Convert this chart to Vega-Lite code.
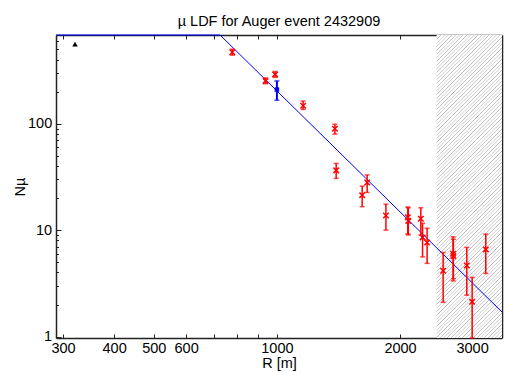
{
  "$schema": "https://vega.github.io/schema/vega-lite/v6.json",
  "width": 446,
  "height": 303,
  "autosize": {"type": "none"},
  "padding": {"left": 56, "top": 35, "right": 3, "bottom": 34},
  "title": {"text": "µ LDF for Auger event 2432909", "font": "Liberation Sans", "fontSize": 14.5, "fontWeight": "normal", "color": "#000", "offset": 4},
  "config": {
    "view": {"stroke": null},
    "axis": {"labelFont": "Liberation Sans", "titleFont": "Liberation Sans", "labelFontSize": 14.5, "titleFontSize": 14.5, "titleFontWeight": "normal", "labelColor": "#000", "titleColor": "#000", "domainColor": "#222", "tickColor": "#222", "domainWidth": 1.5, "tickWidth": 1, "grid": false, "labelFlush": false, "labelOverlap": false, "labelBound": false}
  },
  "datasets": {
    "red": [
      {"R": 778, "N": 469, "lo": 440, "hi": 500},
      {"R": 938, "N": 252, "lo": 237, "hi": 269},
      {"R": 990, "N": 290, "lo": 272, "hi": 309},
      {"R": 1159, "N": 147, "lo": 136, "hi": 163},
      {"R": 1386, "N": 89.4, "lo": 79.7, "hi": 98.9},
      {"R": 1396, "N": 36.4, "lo": 30.6, "hi": 42.3},
      {"R": 1616, "N": 21.3, "lo": 16.6, "hi": 25.9},
      {"R": 1662, "N": 28.0, "lo": 22.6, "hi": 33.0},
      {"R": 1847, "N": 13.7, "lo": 10.0, "hi": 17.5},
      {"R": 2089, "N": 13.2, "lo": 9.2, "hi": 16.5},
      {"R": 2095, "N": 12.2, "lo": 9.0, "hi": 16.2},
      {"R": 2248, "N": 12.8, "lo": 9.0, "hi": 16.2},
      {"R": 2270, "N": 8.54, "lo": 5.6, "hi": 11.6},
      {"R": 2329, "N": 7.66, "lo": 4.87, "hi": 10.4},
      {"R": 2549, "N": 4.15, "lo": 2.1, "hi": 6.17},
      {"R": 2696, "N": 6.0, "lo": 3.34, "hi": 8.65},
      {"R": 2700, "N": 5.7, "lo": 3.5, "hi": 8.2},
      {"R": 2912, "N": 4.66, "lo": 2.45, "hi": 6.88},
      {"R": 3001, "N": 2.12, "lo": 0.5, "hi": 3.6},
      {"R": 3240, "N": 6.59, "lo": 3.92, "hi": 9.17}
    ],
    "blue": [{"R": 1000, "N": 209, "lo": 166, "hi": 252}],
    "sat": [{"R": 321, "N": 558}],
    "fit": [{"R": 288.4, "N": 680}, {"R": 726, "N": 680}, {"R": 3550, "N": 1.7}],
    "cut": [{"R0": 2456, "R1": 3550}]
  },
  "resolve": {"axis": {"x": "independent", "y": "independent"}},
  "layer": [
    {
      "data": {"name": "cut"},
      "mark": {"type": "rect", "stroke": null, "fill": {"gradient": "linear", "x1": 0, "y1": 0, "x2": 0.249, "y2": 1.161, "stops": [
{"offset":0,"color":"#fff"},{"offset":0.002,"color":"#b4b4b4"},{"offset":0.004,"color":"#fff"},
{"offset":0.01,"color":"#fff"},{"offset":0.012,"color":"#b4b4b4"},{"offset":0.014,"color":"#fff"},
{"offset":0.02,"color":"#fff"},{"offset":0.022,"color":"#b4b4b4"},{"offset":0.024,"color":"#fff"},
{"offset":0.03,"color":"#fff"},{"offset":0.032,"color":"#b4b4b4"},{"offset":0.034,"color":"#fff"},
{"offset":0.04,"color":"#fff"},{"offset":0.042,"color":"#b4b4b4"},{"offset":0.044,"color":"#fff"},
{"offset":0.05,"color":"#fff"},{"offset":0.052,"color":"#b4b4b4"},{"offset":0.054,"color":"#fff"},
{"offset":0.06,"color":"#fff"},{"offset":0.062,"color":"#b4b4b4"},{"offset":0.064,"color":"#fff"},
{"offset":0.07,"color":"#fff"},{"offset":0.072,"color":"#b4b4b4"},{"offset":0.074,"color":"#fff"},
{"offset":0.08,"color":"#fff"},{"offset":0.082,"color":"#b4b4b4"},{"offset":0.084,"color":"#fff"},
{"offset":0.09,"color":"#fff"},{"offset":0.092,"color":"#b4b4b4"},{"offset":0.094,"color":"#fff"},
{"offset":0.10,"color":"#fff"},{"offset":0.102,"color":"#b4b4b4"},{"offset":0.104,"color":"#fff"},
{"offset":0.11,"color":"#fff"},{"offset":0.112,"color":"#b4b4b4"},{"offset":0.114,"color":"#fff"},
{"offset":0.12,"color":"#fff"},{"offset":0.122,"color":"#b4b4b4"},{"offset":0.124,"color":"#fff"},
{"offset":0.13,"color":"#fff"},{"offset":0.132,"color":"#b4b4b4"},{"offset":0.134,"color":"#fff"},
{"offset":0.14,"color":"#fff"},{"offset":0.142,"color":"#b4b4b4"},{"offset":0.144,"color":"#fff"},
{"offset":0.15,"color":"#fff"},{"offset":0.152,"color":"#b4b4b4"},{"offset":0.154,"color":"#fff"},
{"offset":0.16,"color":"#fff"},{"offset":0.162,"color":"#b4b4b4"},{"offset":0.164,"color":"#fff"},
{"offset":0.17,"color":"#fff"},{"offset":0.172,"color":"#b4b4b4"},{"offset":0.174,"color":"#fff"},
{"offset":0.18,"color":"#fff"},{"offset":0.182,"color":"#b4b4b4"},{"offset":0.184,"color":"#fff"},
{"offset":0.19,"color":"#fff"},{"offset":0.192,"color":"#b4b4b4"},{"offset":0.194,"color":"#fff"},
{"offset":0.20,"color":"#fff"},{"offset":0.202,"color":"#b4b4b4"},{"offset":0.204,"color":"#fff"},
{"offset":0.21,"color":"#fff"},{"offset":0.212,"color":"#b4b4b4"},{"offset":0.214,"color":"#fff"},
{"offset":0.22,"color":"#fff"},{"offset":0.222,"color":"#b4b4b4"},{"offset":0.224,"color":"#fff"},
{"offset":0.23,"color":"#fff"},{"offset":0.232,"color":"#b4b4b4"},{"offset":0.234,"color":"#fff"},
{"offset":0.24,"color":"#fff"},{"offset":0.242,"color":"#b4b4b4"},{"offset":0.244,"color":"#fff"},
{"offset":0.25,"color":"#fff"},{"offset":0.252,"color":"#b4b4b4"},{"offset":0.254,"color":"#fff"},
{"offset":0.26,"color":"#fff"},{"offset":0.262,"color":"#b4b4b4"},{"offset":0.264,"color":"#fff"},
{"offset":0.27,"color":"#fff"},{"offset":0.272,"color":"#b4b4b4"},{"offset":0.274,"color":"#fff"},
{"offset":0.28,"color":"#fff"},{"offset":0.282,"color":"#b4b4b4"},{"offset":0.284,"color":"#fff"},
{"offset":0.29,"color":"#fff"},{"offset":0.292,"color":"#b4b4b4"},{"offset":0.294,"color":"#fff"},
{"offset":0.30,"color":"#fff"},{"offset":0.302,"color":"#b4b4b4"},{"offset":0.304,"color":"#fff"},
{"offset":0.31,"color":"#fff"},{"offset":0.312,"color":"#b4b4b4"},{"offset":0.314,"color":"#fff"},
{"offset":0.32,"color":"#fff"},{"offset":0.322,"color":"#b4b4b4"},{"offset":0.324,"color":"#fff"},
{"offset":0.33,"color":"#fff"},{"offset":0.332,"color":"#b4b4b4"},{"offset":0.334,"color":"#fff"},
{"offset":0.34,"color":"#fff"},{"offset":0.342,"color":"#b4b4b4"},{"offset":0.344,"color":"#fff"},
{"offset":0.35,"color":"#fff"},{"offset":0.352,"color":"#b4b4b4"},{"offset":0.354,"color":"#fff"},
{"offset":0.36,"color":"#fff"},{"offset":0.362,"color":"#b4b4b4"},{"offset":0.364,"color":"#fff"},
{"offset":0.37,"color":"#fff"},{"offset":0.372,"color":"#b4b4b4"},{"offset":0.374,"color":"#fff"},
{"offset":0.38,"color":"#fff"},{"offset":0.382,"color":"#b4b4b4"},{"offset":0.384,"color":"#fff"},
{"offset":0.39,"color":"#fff"},{"offset":0.392,"color":"#b4b4b4"},{"offset":0.394,"color":"#fff"},
{"offset":0.40,"color":"#fff"},{"offset":0.402,"color":"#b4b4b4"},{"offset":0.404,"color":"#fff"},
{"offset":0.41,"color":"#fff"},{"offset":0.412,"color":"#b4b4b4"},{"offset":0.414,"color":"#fff"},
{"offset":0.42,"color":"#fff"},{"offset":0.422,"color":"#b4b4b4"},{"offset":0.424,"color":"#fff"},
{"offset":0.43,"color":"#fff"},{"offset":0.432,"color":"#b4b4b4"},{"offset":0.434,"color":"#fff"},
{"offset":0.44,"color":"#fff"},{"offset":0.442,"color":"#b4b4b4"},{"offset":0.444,"color":"#fff"},
{"offset":0.45,"color":"#fff"},{"offset":0.452,"color":"#b4b4b4"},{"offset":0.454,"color":"#fff"},
{"offset":0.46,"color":"#fff"},{"offset":0.462,"color":"#b4b4b4"},{"offset":0.464,"color":"#fff"},
{"offset":0.47,"color":"#fff"},{"offset":0.472,"color":"#b4b4b4"},{"offset":0.474,"color":"#fff"},
{"offset":0.48,"color":"#fff"},{"offset":0.482,"color":"#b4b4b4"},{"offset":0.484,"color":"#fff"},
{"offset":0.49,"color":"#fff"},{"offset":0.492,"color":"#b4b4b4"},{"offset":0.494,"color":"#fff"},
{"offset":0.50,"color":"#fff"},{"offset":0.502,"color":"#b4b4b4"},{"offset":0.504,"color":"#fff"},
{"offset":0.51,"color":"#fff"},{"offset":0.512,"color":"#b4b4b4"},{"offset":0.514,"color":"#fff"},
{"offset":0.52,"color":"#fff"},{"offset":0.522,"color":"#b4b4b4"},{"offset":0.524,"color":"#fff"},
{"offset":0.53,"color":"#fff"},{"offset":0.532,"color":"#b4b4b4"},{"offset":0.534,"color":"#fff"},
{"offset":0.54,"color":"#fff"},{"offset":0.542,"color":"#b4b4b4"},{"offset":0.544,"color":"#fff"},
{"offset":0.55,"color":"#fff"},{"offset":0.552,"color":"#b4b4b4"},{"offset":0.554,"color":"#fff"},
{"offset":0.56,"color":"#fff"},{"offset":0.562,"color":"#b4b4b4"},{"offset":0.564,"color":"#fff"},
{"offset":0.57,"color":"#fff"},{"offset":0.572,"color":"#b4b4b4"},{"offset":0.574,"color":"#fff"},
{"offset":0.58,"color":"#fff"},{"offset":0.582,"color":"#b4b4b4"},{"offset":0.584,"color":"#fff"},
{"offset":0.59,"color":"#fff"},{"offset":0.592,"color":"#b4b4b4"},{"offset":0.594,"color":"#fff"},
{"offset":0.60,"color":"#fff"},{"offset":0.602,"color":"#b4b4b4"},{"offset":0.604,"color":"#fff"},
{"offset":0.61,"color":"#fff"},{"offset":0.612,"color":"#b4b4b4"},{"offset":0.614,"color":"#fff"},
{"offset":0.62,"color":"#fff"},{"offset":0.622,"color":"#b4b4b4"},{"offset":0.624,"color":"#fff"},
{"offset":0.63,"color":"#fff"},{"offset":0.632,"color":"#b4b4b4"},{"offset":0.634,"color":"#fff"},
{"offset":0.64,"color":"#fff"},{"offset":0.642,"color":"#b4b4b4"},{"offset":0.644,"color":"#fff"},
{"offset":0.65,"color":"#fff"},{"offset":0.652,"color":"#b4b4b4"},{"offset":0.654,"color":"#fff"},
{"offset":0.66,"color":"#fff"},{"offset":0.662,"color":"#b4b4b4"},{"offset":0.664,"color":"#fff"},
{"offset":0.67,"color":"#fff"},{"offset":0.672,"color":"#b4b4b4"},{"offset":0.674,"color":"#fff"},
{"offset":0.68,"color":"#fff"},{"offset":0.682,"color":"#b4b4b4"},{"offset":0.684,"color":"#fff"},
{"offset":0.69,"color":"#fff"},{"offset":0.692,"color":"#b4b4b4"},{"offset":0.694,"color":"#fff"},
{"offset":0.70,"color":"#fff"},{"offset":0.702,"color":"#b4b4b4"},{"offset":0.704,"color":"#fff"},
{"offset":0.71,"color":"#fff"},{"offset":0.712,"color":"#b4b4b4"},{"offset":0.714,"color":"#fff"},
{"offset":0.72,"color":"#fff"},{"offset":0.722,"color":"#b4b4b4"},{"offset":0.724,"color":"#fff"},
{"offset":0.73,"color":"#fff"},{"offset":0.732,"color":"#b4b4b4"},{"offset":0.734,"color":"#fff"},
{"offset":0.74,"color":"#fff"},{"offset":0.742,"color":"#b4b4b4"},{"offset":0.744,"color":"#fff"},
{"offset":0.75,"color":"#fff"},{"offset":0.752,"color":"#b4b4b4"},{"offset":0.754,"color":"#fff"},
{"offset":0.76,"color":"#fff"},{"offset":0.762,"color":"#b4b4b4"},{"offset":0.764,"color":"#fff"},
{"offset":0.77,"color":"#fff"},{"offset":0.772,"color":"#b4b4b4"},{"offset":0.774,"color":"#fff"},
{"offset":0.78,"color":"#fff"},{"offset":0.782,"color":"#b4b4b4"},{"offset":0.784,"color":"#fff"},
{"offset":0.79,"color":"#fff"},{"offset":0.792,"color":"#b4b4b4"},{"offset":0.794,"color":"#fff"},
{"offset":0.80,"color":"#fff"},{"offset":0.802,"color":"#b4b4b4"},{"offset":0.804,"color":"#fff"},
{"offset":0.81,"color":"#fff"},{"offset":0.812,"color":"#b4b4b4"},{"offset":0.814,"color":"#fff"},
{"offset":0.82,"color":"#fff"},{"offset":0.822,"color":"#b4b4b4"},{"offset":0.824,"color":"#fff"},
{"offset":0.83,"color":"#fff"},{"offset":0.832,"color":"#b4b4b4"},{"offset":0.834,"color":"#fff"},
{"offset":0.84,"color":"#fff"},{"offset":0.842,"color":"#b4b4b4"},{"offset":0.844,"color":"#fff"},
{"offset":0.85,"color":"#fff"},{"offset":0.852,"color":"#b4b4b4"},{"offset":0.854,"color":"#fff"},
{"offset":0.86,"color":"#fff"},{"offset":0.862,"color":"#b4b4b4"},{"offset":0.864,"color":"#fff"},
{"offset":0.87,"color":"#fff"},{"offset":0.872,"color":"#b4b4b4"},{"offset":0.874,"color":"#fff"},
{"offset":0.88,"color":"#fff"},{"offset":0.882,"color":"#b4b4b4"},{"offset":0.884,"color":"#fff"},
{"offset":0.89,"color":"#fff"},{"offset":0.892,"color":"#b4b4b4"},{"offset":0.894,"color":"#fff"},
{"offset":0.90,"color":"#fff"},{"offset":0.902,"color":"#b4b4b4"},{"offset":0.904,"color":"#fff"},
{"offset":0.91,"color":"#fff"},{"offset":0.912,"color":"#b4b4b4"},{"offset":0.914,"color":"#fff"},
{"offset":0.92,"color":"#fff"},{"offset":0.922,"color":"#b4b4b4"},{"offset":0.924,"color":"#fff"},
{"offset":0.93,"color":"#fff"},{"offset":0.932,"color":"#b4b4b4"},{"offset":0.934,"color":"#fff"},
{"offset":0.94,"color":"#fff"},{"offset":0.942,"color":"#b4b4b4"},{"offset":0.944,"color":"#fff"},
{"offset":0.95,"color":"#fff"},{"offset":0.952,"color":"#b4b4b4"},{"offset":0.954,"color":"#fff"},
{"offset":0.96,"color":"#fff"},{"offset":0.962,"color":"#b4b4b4"},{"offset":0.964,"color":"#fff"},
{"offset":0.97,"color":"#fff"},{"offset":0.972,"color":"#b4b4b4"},{"offset":0.974,"color":"#fff"},
{"offset":0.98,"color":"#fff"},{"offset":0.982,"color":"#b4b4b4"},{"offset":0.984,"color":"#fff"},
{"offset":0.99,"color":"#fff"},{"offset":0.992,"color":"#b4b4b4"},{"offset":0.994,"color":"#fff"},
{"offset":1,"color":"#fff"}
      ]}},
      "encoding": {
        "x": {"field": "R0", "type": "quantitative", "scale": {"type": "log", "domain": [288.4, 3550], "nice": false}, "axis": null},
        "x2": {"field": "R1"}
      }
    },
    {
      "data": {"name": "fit"},
      "mark": {"type": "line", "color": "#0000ff", "strokeWidth": 1},
      "encoding": {
        "x": {"field": "R", "type": "quantitative", "scale": {"type": "log", "domain": [288.4, 3550], "nice": false},
          "axis": {"orient": "bottom", "values": [300, 400, 500, 600, 700, 800, 900, 1000, 2000, 3000], "format": "d", "labelExpr": "(datum.value == 700 || datum.value == 800 || datum.value == 900) ? '' : datum.label", "tickSize": -4, "labelPadding": 7.5, "title": "R [m]", "titlePadding": 1}},
        "y": {"field": "N", "type": "quantitative", "scale": {"type": "log", "domain": [0.97, 680], "nice": false, "clamp": true},
          "axis": {"orient": "left", "values": [1, 10, 100], "format": "d", "tickSize": -5, "labelPadding": 9.3, "title": "Nµ", "titlePadding": 0}}
      }
    },
    {
      "data": {"name": "red"},
      "mark": {"type": "rule", "color": "#ff0000", "strokeWidth": 1.5},
      "encoding": {
        "x": {"field": "R", "type": "quantitative", "scale": {"type": "log", "domain": [288.4, 3550], "nice": false},
          "axis": {"orient": "top", "values": [300, 400, 500, 600, 700, 800, 900, 1000, 2000, 3000], "labels": false, "tickSize": -4, "title": null}},
        "y": {"field": "lo", "type": "quantitative", "scale": {"type": "log", "domain": [0.97, 680], "nice": false, "clamp": true},
          "axis": {"orient": "left", "values": [2, 3, 4, 5, 6, 7, 8, 9, 20, 30, 40, 50, 60, 70, 80, 90, 200, 300, 400, 500, 600], "labels": false, "domain": false, "tickSize": -2.5, "title": null}},
        "y2": {"field": "hi"}
      }
    },
    {
      "data": {"name": "red"},
      "mark": {"type": "tick", "orient": "horizontal", "color": "#ff0000", "size": 5, "thickness": 1.5},
      "encoding": {
        "x": {"field": "R", "type": "quantitative", "scale": {"type": "log", "domain": [288.4, 3550], "nice": false}, "axis": null},
        "y": {"field": "lo", "type": "quantitative", "scale": {"type": "log", "domain": [0.97, 680], "nice": false, "clamp": true},
          "axis": {"orient": "right", "values": [2, 3, 4, 5, 6, 7, 8, 9, 20, 30, 40, 50, 60, 70, 80, 90, 200, 300, 400, 500, 600], "labels": false, "domain": false, "tickSize": -2.5, "title": null}}
      }
    },
    {
      "data": {"name": "red"},
      "mark": {"type": "tick", "orient": "horizontal", "color": "#ff0000", "size": 5, "thickness": 1.5},
      "encoding": {
        "x": {"field": "R", "type": "quantitative", "scale": {"type": "log", "domain": [288.4, 3550], "nice": false}, "axis": null},
        "y": {"field": "hi", "type": "quantitative", "scale": {"type": "log", "domain": [0.97, 680], "nice": false, "clamp": true}, "axis": null}
      }
    },
    {
      "data": {"name": "red"},
      "mark": {"type": "point", "shape": "M-1,-1L1,1M-1,1L1,-1", "size": 30, "filled": false, "stroke": "#ff0000", "strokeWidth": 1.5, "opacity": 1},
      "encoding": {
        "x": {"field": "R", "type": "quantitative", "scale": {"type": "log", "domain": [288.4, 3550], "nice": false}, "axis": null},
        "y": {"field": "N", "type": "quantitative", "scale": {"type": "log", "domain": [0.97, 680], "nice": false, "clamp": true},
          "axis": {"orient": "right", "values": [1, 10, 100], "labels": false, "tickSize": -5, "title": null}}
      }
    },
    {
      "data": {"name": "blue"},
      "mark": {"type": "rule", "color": "#0000ff", "strokeWidth": 2},
      "encoding": {
        "x": {"field": "R", "type": "quantitative", "scale": {"type": "log", "domain": [288.4, 3550], "nice": false}, "axis": null},
        "y": {"field": "lo", "type": "quantitative", "scale": {"type": "log", "domain": [0.97, 680], "nice": false, "clamp": true}, "axis": null},
        "y2": {"field": "hi"}
      }
    },
    {
      "data": {"name": "blue"},
      "mark": {"type": "tick", "orient": "horizontal", "color": "#0000ff", "size": 5, "thickness": 1.5},
      "encoding": {
        "x": {"field": "R", "type": "quantitative", "scale": {"type": "log", "domain": [288.4, 3550], "nice": false}, "axis": null},
        "y": {"field": "lo", "type": "quantitative", "scale": {"type": "log", "domain": [0.97, 680], "nice": false, "clamp": true}, "axis": null}
      }
    },
    {
      "data": {"name": "blue"},
      "mark": {"type": "tick", "orient": "horizontal", "color": "#0000ff", "size": 5, "thickness": 1.5},
      "encoding": {
        "x": {"field": "R", "type": "quantitative", "scale": {"type": "log", "domain": [288.4, 3550], "nice": false}, "axis": null},
        "y": {"field": "hi", "type": "quantitative", "scale": {"type": "log", "domain": [0.97, 680], "nice": false, "clamp": true}, "axis": null}
      }
    },
    {
      "data": {"name": "blue"},
      "mark": {"type": "point", "shape": "square", "size": 20, "filled": true, "color": "#0000ff", "opacity": 1},
      "encoding": {
        "x": {"field": "R", "type": "quantitative", "scale": {"type": "log", "domain": [288.4, 3550], "nice": false}, "axis": null},
        "y": {"field": "N", "type": "quantitative", "scale": {"type": "log", "domain": [0.97, 680], "nice": false, "clamp": true}, "axis": null}
      }
    },
    {
      "data": {"name": "sat"},
      "mark": {"type": "point", "shape": "triangle-up", "size": 30, "filled": true, "color": "#000", "opacity": 1},
      "encoding": {
        "x": {"field": "R", "type": "quantitative", "scale": {"type": "log", "domain": [288.4, 3550], "nice": false}, "axis": null},
        "y": {"field": "N", "type": "quantitative", "scale": {"type": "log", "domain": [0.97, 680], "nice": false, "clamp": true}, "axis": null}
      }
    }
  ]
}
